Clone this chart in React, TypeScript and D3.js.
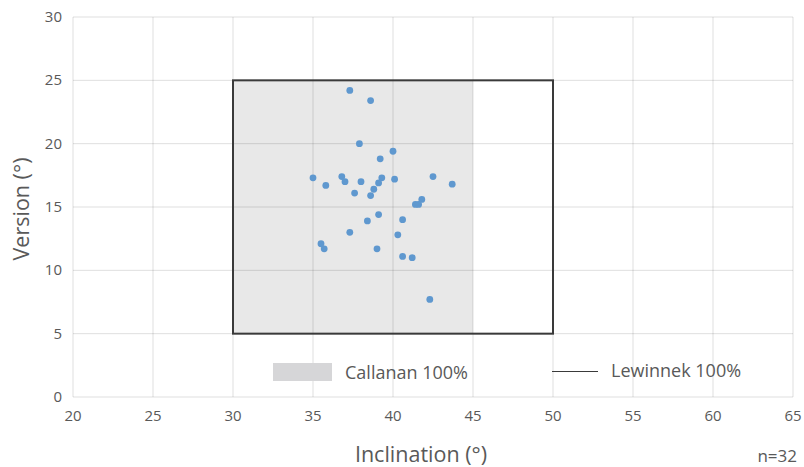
import React, { useEffect, useRef } from 'react';
import * as d3 from 'd3';

// 散点数据：倾角 / 前倾角
const inclination = [
  37.3, 38.6, 37.9, 40.0, 39.2, 35.0, 35.8, 36.8, 37.0, 38.0, 39.3, 39.1, 38.8, 37.6, 40.1, 42.5,
  43.7, 38.6, 41.8, 41.4, 41.6, 39.1, 40.6, 38.4, 37.3, 40.3, 35.5, 35.7, 39.0, 40.6, 41.2, 42.3
];
const version = [
  24.2, 23.4, 20.0, 19.4, 18.8, 17.3, 16.7, 17.4, 17.0, 17.0, 17.3, 16.9, 16.4, 16.1, 17.2, 17.4,
  16.8, 15.9, 15.6, 15.2, 15.2, 14.4, 14.0, 13.9, 13.0, 12.8, 12.1, 11.7, 11.7, 11.1, 11.0, 7.7
];

const xTicks = [20, 25, 30, 35, 40, 45, 50, 55, 60, 65];
const yTicks = [0, 5, 10, 15, 20, 25, 30];

// 安全区
const callanan = { x0: 30, x1: 45, y0: 5, y1: 25 };
const lewinnek = { x0: 30, x1: 50, y0: 5, y1: 25 };

const W = 804;
const H = 467;
const FONT = '"Open Sans", "Noto Sans", sans-serif';
const TEXT = '#595959';

const App: React.FC = () => {
  const svgRef = useRef<SVGSVGElement>(null);

  useEffect(() => {
    if (!svgRef.current) return;
    const svg = d3.select(svgRef.current);
    svg.selectAll('*').remove();

    const x = d3.scaleLinear().domain([20, 65]).range([73, 793]);
    const y = d3.scaleLinear().domain([0, 30]).range([397, 17]);

    // Callanan 区域
    svg.append('rect')
      .attr('x', x(callanan.x0))
      .attr('y', y(callanan.y1))
      .attr('width', x(callanan.x1) - x(callanan.x0))
      .attr('height', y(callanan.y0) - y(callanan.y1))
      .attr('fill', '#e8e8e8');

    // 网格
    const grid = svg.append('g');
    grid.selectAll('.gx')
      .data(xTicks)
      .enter()
      .append('line')
      .attr('x1', d => x(d)).attr('x2', d => x(d))
      .attr('y1', y(30)).attr('y2', y(0))
      .attr('stroke', 'rgba(0,0,0,0.13)')
      .attr('stroke-width', 1);
    grid.selectAll('.gy')
      .data(yTicks)
      .enter()
      .append('line')
      .attr('x1', x(20)).attr('x2', x(65))
      .attr('y1', d => y(d)).attr('y2', d => y(d))
      .attr('stroke', 'rgba(0,0,0,0.13)')
      .attr('stroke-width', 1);

    // Lewinnek 框
    svg.append('rect')
      .attr('x', x(lewinnek.x0))
      .attr('y', y(lewinnek.y1))
      .attr('width', x(lewinnek.x1) - x(lewinnek.x0))
      .attr('height', y(lewinnek.y0) - y(lewinnek.y1))
      .attr('fill', 'none')
      .attr('stroke', '#3a3a3a')
      .attr('stroke-width', 2);

    // 散点
    svg.append('g')
      .selectAll('circle')
      .data(inclination.map((v, i) => [v, version[i]]))
      .enter()
      .append('circle')
      .attr('cx', d => x(d[0]))
      .attr('cy', d => y(d[1]))
      .attr('r', 3.4)
      .attr('fill', '#5f98cf');

    // 刻度标签
    svg.append('g')
      .selectAll('text')
      .data(xTicks)
      .enter()
      .append('text')
      .attr('x', d => x(d))
      .attr('y', 421)
      .attr('text-anchor', 'middle')
      .attr('font-size', '15px')
      .attr('font-family', FONT)
      .attr('fill', TEXT)
      .text(d => `${d}`);

    svg.append('g')
      .selectAll('text')
      .data(yTicks)
      .enter()
      .append('text')
      .attr('x', 62)
      .attr('y', d => y(d) + 5)
      .attr('text-anchor', 'end')
      .attr('font-size', '15px')
      .attr('font-family', FONT)
      .attr('fill', TEXT)
      .text(d => `${d}`);

    // 轴标题
    svg.append('text')
      .attr('x', 421)
      .attr('y', 462)
      .attr('text-anchor', 'middle')
      .attr('font-size', '21.5px')
      .attr('font-family', FONT)
      .attr('fill', TEXT)
      .text('Inclination (°)');

    svg.append('text')
      .attr('transform', `translate(29, 209) rotate(-90)`)
      .attr('text-anchor', 'middle')
      .attr('font-size', '21.5px')
      .attr('font-family', FONT)
      .attr('fill', TEXT)
      .text('Version (°)');

    svg.append('text')
      .attr('x', 797)
      .attr('y', 462)
      .attr('text-anchor', 'end')
      .attr('font-size', '17px')
      .attr('font-family', FONT)
      .attr('fill', TEXT)
      .text('n=32');

    // 图例
    svg.append('rect')
      .attr('x', 273).attr('y', 363)
      .attr('width', 59).attr('height', 18)
      .attr('fill', '#d6d6d8');
    svg.append('text')
      .attr('x', 345).attr('y', 379)
      .attr('font-size', '18px')
      .attr('font-family', FONT)
      .attr('fill', TEXT)
      .text('Callanan 100%');
    svg.append('line')
      .attr('x1', 552).attr('x2', 598)
      .attr('y1', 371.5).attr('y2', 371.5)
      .attr('stroke', '#3a3a3a')
      .attr('stroke-width', 1);
    svg.append('text')
      .attr('x', 611).attr('y', 377)
      .attr('font-size', '18px')
      .attr('font-family', FONT)
      .attr('fill', TEXT)
      .text('Lewinnek 100%');
  }, []);

  return (
    <div style={{ position: 'absolute', left: 0, top: 0 }}>
      <svg ref={svgRef} width={W} height={H} style={{ display: 'block', background: '#ffffff' }} />
    </div>
  );
};

export default App;
